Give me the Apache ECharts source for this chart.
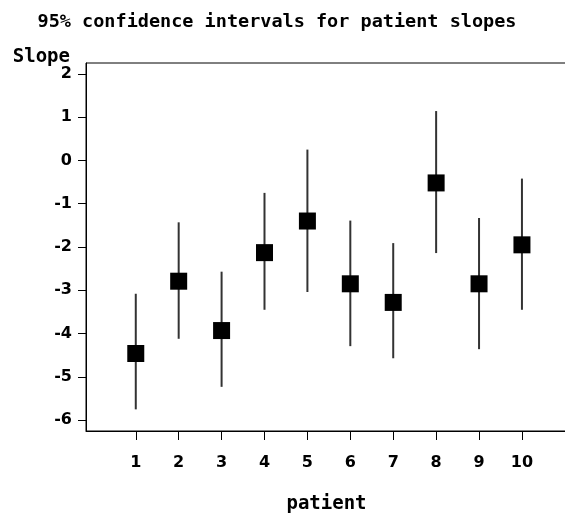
<!DOCTYPE html>
<html>
<head>
<meta charset="utf-8">
<script src="https://cdn.jsdelivr.net/npm/echarts@6/dist/echarts.min.js"></script>
<style>
html,body{margin:0;padding:0;background:#fff;}
#chart{width:565px;height:513px;}
</style>
</head>
<body>
<div id="chart"></div>
<script>
var patients = [1, 2, 3, 4, 5, 6, 7, 8, 9, 10];
var slopes   = [-4.46, -2.79, -3.93, -2.13, -1.40, -2.85, -3.28, -0.52, -2.85, -1.95];
var lower    = [-5.75, -4.12, -5.23, -3.45, -3.04, -4.29, -4.57, -2.14, -4.36, -3.45];
var upper    = [-3.08, -1.43, -2.57, -0.75, 0.25, -1.39, -1.91, 1.14, -1.33, -0.42];
var yTicks   = [-6, -5, -4, -3, -2, -1, 0, 1, 2];
var xTicks   = [1, 2, 3, 4, 5, 6, 7, 8, 9, 10];

var monoFont = 'DejaVu Sans Mono';
var tickFont = 'DejaVu Sans';

var intervalData = patients.map(function (p, i) { return [p, lower[i], upper[i]]; });
var pointData = patients.map(function (p, i) { return [p, slopes[i]]; });

var chart = echarts.init(document.getElementById('chart'), null, {renderer: 'canvas'});
chart.setOption({
  animation: false,
  backgroundColor: '#fff',
  title: {
    text: '95% confidence intervals for patient slopes',
    left: 272,
    top: 8,
    textAlign: 'center',
    textStyle: {fontFamily: monoFont, fontWeight: 'bold', fontSize: 18.5, color: '#000'}
  },
  grid: {
    left: 86, top: 63, right: -2, bottom: 82,
    containLabel: false,
    outerBoundsMode: 'none',
    show: true, borderColor: '#000', borderWidth: 1, backgroundColor: 'transparent'
  },
  xAxis: {
    type: 'value',
    min: -0.16, max: 11.05,
    name: 'patient',
    nameLocation: 'middle',
    nameGap: 64,
    nameMoveOverlap: false,
    nameTextStyle: {fontFamily: monoFont, fontWeight: 'bold', fontSize: 19, color: '#000'},
    splitLine: {show: false},
    axisLine: {show: true, onZero: false, lineStyle: {color: '#000', width: 1}},
    axisTick: {show: true, customValues: xTicks, length: 9, lineStyle: {color: '#000', width: 1}},
    axisLabel: {customValues: xTicks, margin: 24, fontFamily: tickFont, fontWeight: 'bold', fontSize: 16, color: '#000'}
  },
  yAxis: {
    type: 'value',
    min: -6.25, max: 2.25,
    name: 'Slope',
    nameLocation: 'end',
    nameGap: 6,
    nameMoveOverlap: false,
    nameTextStyle: {fontFamily: monoFont, fontWeight: 'bold', fontSize: 19, color: '#000', align: 'right', verticalAlign: 'middle', padding: [0, 16, 0, 0]},
    splitLine: {show: false},
    axisLine: {show: true, onZero: false, lineStyle: {color: '#000', width: 1}},
    axisTick: {show: true, customValues: yTicks, length: 8, lineStyle: {color: '#000', width: 1}},
    axisLabel: {customValues: yTicks, margin: 14, fontFamily: tickFont, fontWeight: 'bold', fontSize: 16, color: '#000'}
  },
  series: [
    {
      type: 'custom',
      data: intervalData,
      z: 2,
      renderItem: function (params, api) {
        var lo = api.coord([api.value(0), api.value(1)]);
        var hi = api.coord([api.value(0), api.value(2)]);
        return {
          type: 'line',
          shape: {x1: lo[0], y1: lo[1], x2: hi[0], y2: hi[1]},
          style: {stroke: '#333', lineWidth: 2}
        };
      }
    },
    {
      type: 'scatter',
      data: pointData,
      z: 3,
      symbol: 'rect',
      symbolSize: 17,
      itemStyle: {color: '#000', opacity: 1}
    }
  ]
});
</script>
</body>
</html>
